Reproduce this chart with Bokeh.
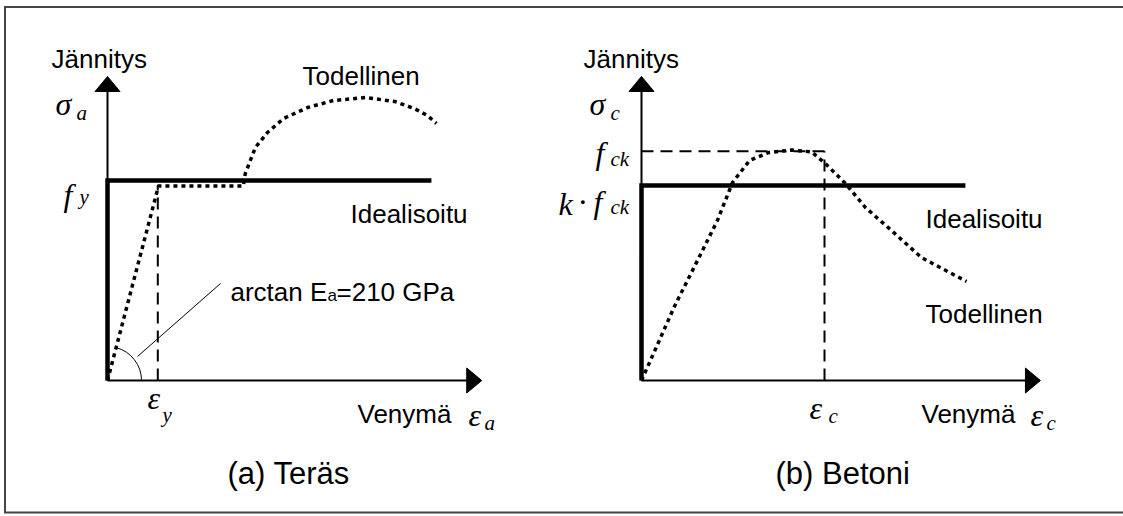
import math

from bokeh.core.properties import value
from bokeh.embed import file_html
from bokeh.models import Range1d
from bokeh.plotting import figure
from bokeh.resources import INLINE

# ---------------------------------------------------------------------------
# (a) Steel: strain in units of eps_y, stress in units of f_y
# ---------------------------------------------------------------------------
steel_strain = [0.0, 1.014, 2.70, 2.74, 2.94, 3.18, 3.50, 3.98, 4.49,
                5.13, 5.71, 6.10, 6.36, 6.54]
steel_stress = [0.0, 0.9725, 0.9725, 1.035, 1.165, 1.24, 1.31, 1.365, 1.40,
                1.415, 1.395, 1.36, 1.325, 1.285]
steel_ideal_strain = [0.0, 0.0, 6.44]
steel_ideal_stress = [0.0, 1.0, 1.0]
steel_eps_y = 1.0
steel_f_y = 1.0
steel_plateau = 0.9725
steel_axis_max = (7.44, 1.52)

# ---------------------------------------------------------------------------
# (b) Concrete: strain in units of eps_c, stress in units of f_ck
# ---------------------------------------------------------------------------
conc_strain = [0.0, 0.18, 0.317, 0.415, 0.497, 0.59, 0.694, 0.82, 0.929,
               1.005, 1.115, 1.224, 1.366, 1.53, 1.776]
conc_stress = [0.0, 0.323, 0.541, 0.698, 0.863, 0.959, 0.994, 1.005, 0.997,
               0.946, 0.859, 0.754, 0.654, 0.536, 0.432]
conc_k = 0.85
conc_eps_c = 1.0
conc_f_ck = 1.0
conc_ideal_strain = [0.0, 0.0, 1.77]
conc_ideal_stress = [0.0, conc_k * conc_f_ck, conc_k * conc_f_ck]
conc_axis_max = (2.18, 1.326)

# ---------------------------------------------------------------------------
# Page layout (pixels)
# ---------------------------------------------------------------------------
W, H = 1123, 516
ORIGIN_A = (107.0, 380.0)
SCALE_A = (50.3, 200.0)
ORIGIN_B = (641.0, 380.0)
SCALE_B = (183.0, 229.3)

SANS = "Liberation Sans"
SERIF = "Liberation Serif"
MATH = 32
SUB = 21


def x_range_for(origin, scale):
    return Range1d(-origin[0] / scale[0], (W - origin[0]) / scale[0])


def y_range_for(origin, scale):
    return Range1d(-(H - origin[1]) / scale[1], origin[1] / scale[1])


def pa(px, py):
    return (px - ORIGIN_A[0]) / SCALE_A[0], (ORIGIN_A[1] - py) / SCALE_A[1]


def pb(px, py):
    return (px - ORIGIN_B[0]) / SCALE_B[0], (ORIGIN_B[1] - py) / SCALE_B[1]


p = figure(width=W, height=H,
           x_range=x_range_for(ORIGIN_A, SCALE_A),
           y_range=y_range_for(ORIGIN_A, SCALE_A),
           x_axis_type=None, y_axis_type=None,
           toolbar_location=None, output_backend="svg", min_border=0)
p.extra_x_ranges = {"b": x_range_for(ORIGIN_B, SCALE_B)}
p.extra_y_ranges = {"b": y_range_for(ORIGIN_B, SCALE_B)}
p.outline_line_color = None
p.outline_line_alpha = 0
p.background_fill_color = "white"
p.border_fill_color = "white"

RB = dict(x_range_name="b", y_range_name="b")


def on(panel):
    return RB if panel == "b" else {}


def text(panel, px, py, s, size, font=SANS, style="normal"):
    conv = pb if panel == "b" else pa
    x, y = conv(px, py)
    p.text(x=[x], y=[y], text=[s], text_font=value(font),
           text_font_size=value(f"{size}px"), text_font_style=style,
           text_align="left", text_baseline="alphabetic",
           text_color="black", **on(panel))


# ---- frame around both diagrams (open on the right) ---------------------------
bx0, by0 = pa(4.5, 6.5)
bx1, by1 = pa(W, 512.0)
p.line([bx1, bx0, bx0, bx1], [by0, by0, by1, by1], line_color="#444444",
       line_width=2, line_join="miter")


# ---- axes with arrow heads -----------------------------------------------
def axes(panel, xmax, ymax, scale):
    head_len, head_half = 15.0, 12.5
    kw = on(panel)
    p.line([0, xmax - head_len / scale[0]], [0, 0], line_color="black", line_width=2, **kw)
    p.line([0, 0], [0, ymax - head_len / scale[1]], line_color="black", line_width=2, **kw)
    p.patch([xmax, xmax - head_len / scale[0], xmax - head_len / scale[0]],
            [0, head_half / scale[1], -head_half / scale[1]],
            fill_color="black", line_color="black", line_width=1, **kw)
    p.patch([0, head_half / scale[0], -head_half / scale[0]],
            [ymax, ymax - head_len / scale[1], ymax - head_len / scale[1]],
            fill_color="black", line_color="black", line_width=1, **kw)


axes("a", steel_axis_max[0], steel_axis_max[1], SCALE_A)
axes("b", conc_axis_max[0], conc_axis_max[1], SCALE_B)

DASH = "12 7"
DOT = "4 4"

# ---- (a) steel ---------------------------------------------------------------
p.line([steel_eps_y, steel_eps_y], [0, steel_plateau], line_color="black",
       line_width=2, line_dash=DASH)
p.line(steel_ideal_strain, steel_ideal_stress, line_color="black", line_width=4.5,
       line_join="miter")
p.line(steel_strain, steel_stress, line_color="black", line_width=3.5,
       line_dash=DOT, line_join="round")

# elastic-modulus angle marker and its leader
theta = math.atan2(steel_stress[1] * SCALE_A[1], steel_strain[1] * SCALE_A[0])
p.arc(x=[0], y=[0], radius=34, radius_units="screen", start_angle=0,
      end_angle=theta, line_color="black", line_width=1)
lx0, ly0 = pa(137, 356)
lx1, ly1 = pa(220, 283)
p.line([lx0, lx1], [ly0, ly1], line_color="black", line_width=1)

# ---- (b) concrete --------------------------------------------------------------
p.line([0, conc_eps_c], [conc_f_ck, conc_f_ck], line_color="black", line_width=2,
       line_dash=DASH, **RB)
p.line([conc_eps_c, conc_eps_c], [0, conc_f_ck], line_color="black", line_width=2,
       line_dash=DASH, **RB)
p.line(conc_ideal_strain, conc_ideal_stress, line_color="black", line_width=4.5,
       line_join="miter", **RB)
p.line(conc_strain, conc_stress, line_color="black", line_width=3.5,
       line_dash=DOT, line_join="round", **RB)

# ---- labels, panel (a) -------------------------------------------------------
text("a", 51, 58, "Jännitys", 26)
text("a", 302, 75, "Todellinen", 26)
text("a", 350, 213, "Idealisoitu", 26)
text("a", 357, 413, "Venymä", 26)
text("a", 230, 291, "arctan E", 26)
text("a", 327, 295, "a", 17)
text("a", 336, 291, "=210 GPa", 26)
text("a", 227, 473, "(a) Teräs", 31)

text("a", 55, 103, "σ", MATH, SERIF, "italic")
text("a", 76, 112, "a", SUB, SERIF, "italic")
text("a", 63, 194, "f", MATH, SERIF, "italic")
text("a", 79, 196, "y", SUB, SERIF, "italic")
text("a", 147, 397, "ε", MATH, SERIF, "italic")
text("a", 162, 414, "y", SUB, SERIF, "italic")
text("a", 468, 414, "ε", MATH, SERIF, "italic")
text("a", 484, 422, "a", SUB, SERIF, "italic")

# ---- labels, panel (b) -------------------------------------------------------
text("b", 583, 58, "Jännitys", 26)
text("b", 925, 218, "Idealisoitu", 26)
text("b", 925, 313, "Todellinen", 26)
text("b", 921, 413, "Venymä", 26)
text("b", 775, 473, "(b) Betoni", 31)

text("b", 589, 103, "σ", MATH, SERIF, "italic")
text("b", 610, 112, "c", SUB, SERIF, "italic")
text("b", 595, 152, "f", MATH, SERIF, "italic")
text("b", 610, 158, "ck", SUB, SERIF, "italic")
text("b", 558, 203, "k", MATH, SERIF, "italic")
text("b", 577, 201, "·", MATH, SERIF)
text("b", 593, 201, "f", MATH, SERIF, "italic")
text("b", 610, 206, "ck", SUB, SERIF, "italic")
text("b", 809, 407, "ε", MATH, SERIF, "italic")
text("b", 828, 415, "c", SUB, SERIF, "italic")
text("b", 1030, 414, "ε", MATH, SERIF, "italic")
text("b", 1046, 422, "c", SUB, SERIF, "italic")

open("out.html", "w").write(file_html(p, INLINE))
